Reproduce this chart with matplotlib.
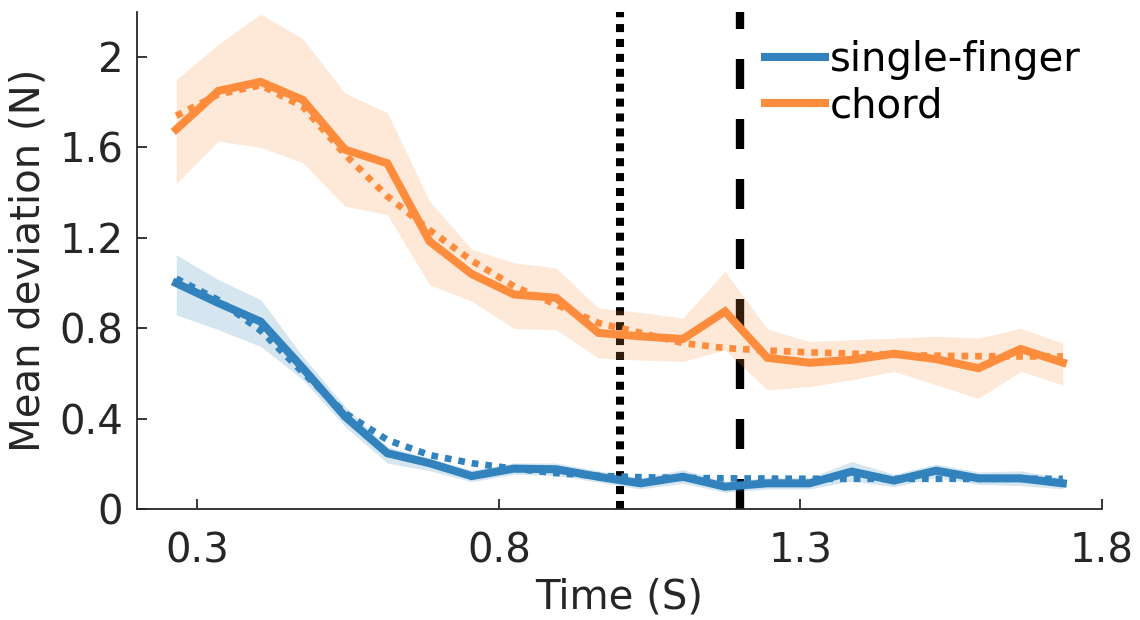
import matplotlib
matplotlib.use("Agg")
from matplotlib import pyplot as plt

# time points (s)
times = [0.265, 0.335, 0.405, 0.475, 0.545, 0.615, 0.685, 0.755, 0.825, 0.895, 0.965,
         1.035, 1.105, 1.175, 1.245, 1.315, 1.385, 1.455, 1.525, 1.595, 1.665, 1.735]

# single-finger
single_mean = [1.0, 0.912, 0.83, 0.624, 0.41, 0.248, 0.204, 0.147, 0.18, 0.177, 0.144,
               0.115, 0.144, 0.10, 0.115, 0.115, 0.167, 0.127, 0.171, 0.137, 0.137, 0.115]
single_hi = [1.126, 1.015, 0.927, 0.676, 0.454, 0.277, 0.226, 0.174, 0.205, 0.205, 0.17,
             0.14, 0.175, 0.125, 0.14, 0.14, 0.211, 0.155, 0.2, 0.165, 0.17, 0.14]
single_lo = [0.86, 0.794, 0.72, 0.573, 0.366, 0.204, 0.171, 0.122, 0.155, 0.15, 0.12,
             0.09, 0.115, 0.075, 0.09, 0.09, 0.125, 0.1, 0.14, 0.11, 0.105, 0.09]
single_fit = [1.02, 0.925, 0.79, 0.605, 0.425, 0.307, 0.24, 0.204, 0.18, 0.16, 0.148,
              0.142, 0.139, 0.137, 0.136, 0.135, 0.135, 0.135, 0.135, 0.135, 0.135, 0.135]

# chord
chord_mean = [1.68, 1.85, 1.89, 1.81, 1.59, 1.53, 1.185, 1.04, 0.95, 0.935, 0.78,
              0.765, 0.753, 0.875, 0.67, 0.648, 0.661, 0.688, 0.664, 0.624, 0.709, 0.649]
chord_hi = [1.90, 2.056, 2.19, 2.08, 1.84, 1.754, 1.362, 1.15, 1.09, 1.067, 0.89,
            0.87, 0.846, 1.052, 0.797, 0.742, 0.75, 0.757, 0.765, 0.757, 0.80, 0.735]
chord_lo = [1.44, 1.628, 1.60, 1.532, 1.34, 1.303, 0.993, 0.92, 0.80, 0.794, 0.669,
            0.66, 0.654, 0.705, 0.528, 0.543, 0.573, 0.61, 0.55, 0.49, 0.61, 0.55]
chord_fit = [1.74, 1.835, 1.875, 1.78, 1.568, 1.384, 1.235, 1.10, 0.986, 0.905, 0.824,
             0.78, 0.735, 0.713, 0.702, 0.694, 0.688, 0.683, 0.679, 0.677, 0.676, 0.676]

# event markers (s)
event_dotted = 1.0
event_dashed = 1.2

xticks = [0.3, 0.8, 1.3, 1.8]
yticks = [0, 0.4, 0.8, 1.2, 1.6, 2]
yticklabels = ["0", "0.4", "0.8", "1.2", "1.6", "2"]

blue = "#3182bd"
orange = "#fd8d3c"
axcol = "#262626"

plt.rcParams["font.family"] = ["DejaVu Sans"]
plt.rcParams["font.size"] = 29

fig = plt.figure(figsize=(11.4, 6.2), dpi=100)
ax = fig.add_axes([0.1202, 0.1785, 0.9667 - 0.1202, 0.9811 - 0.1785])

ax.axvline(event_dotted, color="black", lw=5.8, linestyle=(0, (1, 0.85)), zorder=1)
ax.axvline(event_dashed, color="black", lw=6.0, linestyle=(0, (3.6, 3.6)), zorder=1)

ax.fill_between(times, single_lo, single_hi, color=blue, alpha=0.2, lw=0, zorder=2)
ax.fill_between(times, chord_lo, chord_hi, color=orange, alpha=0.2, lw=0, zorder=2)

# fitted curves
ax.plot(times, single_fit, color=blue, lw=4.8, linestyle=(0, (1, 1.05)), zorder=3)
ax.plot(times, chord_fit, color=orange, lw=4.8, linestyle=(0, (1, 1.05)), zorder=3)
ax.plot(times, single_mean, color=blue, lw=5.8, label="single-finger", zorder=4,
        solid_joinstyle="miter")
ax.plot(times, chord_mean, color=orange, lw=5.8, label="chord", zorder=4,
        solid_joinstyle="miter")

ax.set_xlim(0.2, 1.8)
ax.set_ylim(0, 2.2)
ax.set_xticks(xticks)
ax.set_xticklabels([str(t) for t in xticks])
ax.set_yticks(yticks)
ax.set_yticklabels(yticklabels)

for side in ["top", "right"]:
    ax.spines[side].set_visible(False)
for side in ["left", "bottom"]:
    ax.spines[side].set_color(axcol)
    ax.spines[side].set_linewidth(1.3)

ax.tick_params(axis="both", direction="in", length=7, width=1.3, colors=axcol,
               labelcolor=axcol)
ax.tick_params(axis="x", pad=16)
ax.tick_params(axis="y", pad=10)

ax.set_xlabel("Time (S)", color=axcol, labelpad=4)
ax.set_ylabel("Mean deviation (N)", color=axcol, labelpad=8)

leg = ax.legend(loc="upper left", bbox_to_anchor=(765 / 1140, 1 - 40 / 620),
                bbox_transform=fig.transFigure, frameon=False, borderpad=0,
                borderaxespad=0, handlelength=1.49, handletextpad=0.12,
                labelspacing=0.15)

fig.savefig("out.png", dpi=100)
